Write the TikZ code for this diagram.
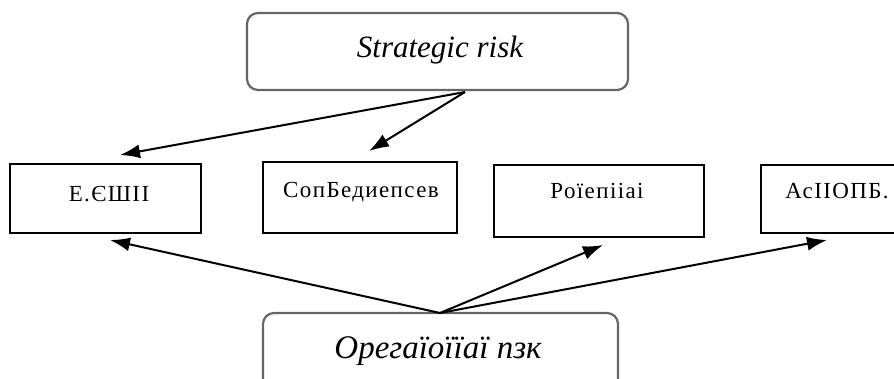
\documentclass[tikz,border=0pt]{standalone}
\usepackage{fontspec}
\setmainfont{Liberation Serif}
\usetikzlibrary{arrows.meta}
\begin{document}
\begin{tikzpicture}[x=1pt,y=-1pt,
 rbox/.style={draw=black!60, line width=2.2pt, rounded corners=11pt, inner sep=0pt},
 sbox/.style={draw=black, line width=1.8pt, inner sep=0pt},
 lbl/.style={anchor=base, inner sep=0pt, font=\fontsize{23}{26}\selectfont\addfontfeatures{LetterSpace=6}},
 ilbl/.style={anchor=base, inner sep=0pt},
 arr/.style={line width=2pt, -{Latex[length=20pt,width=14pt]}}]
\useasboundingbox (0,0) rectangle (894,378);
% boxes
\node[rbox, minimum width=381pt, minimum height=77pt] (top) at (437.5,51.5) {};
\node[sbox, minimum width=191pt, minimum height=69pt] (b1) at (105.5,198.5) {};
\node[sbox, minimum width=194pt, minimum height=71pt] (b2) at (360,197.5) {};
\node[sbox, minimum width=210pt, minimum height=72pt] (b3) at (599,201) {};
\node[sbox, minimum width=144pt, minimum height=68pt] (b4) at (833,199) {};
\node[rbox, minimum width=355pt, minimum height=87pt] (bot) at (440.5,356.5) {};
% labels
\node[ilbl, font=\fontsize{31}{34}\selectfont\itshape] (ttop) at (440,57) {Strategic risk};
\node[lbl] (t1) at (109,201) {Е.ЄШІІ};
\node[lbl] (t2) at (361,197) {СопБедиепсев};
\node[lbl] (t3) at (597,198) {Роїепііаі};
\node[lbl] (t4) at (837,198) {АсІІОПБ.};
\node[ilbl, font=\fontsize{33}{36}\selectfont\itshape] (tbot) at (438,358) {Орегаїоїїаї пзк};
% connector ends
\coordinate (s1) at (465,92);
\coordinate (s2) at (440,313);
\coordinate (e1) at (120,155);
\coordinate (e2) at (369,151);
\coordinate (e3) at (110,240);
\coordinate (e4) at (603,245);
\coordinate (e5) at (827,240);
\draw[arr] (s1) -- (e1);
\draw[arr] (s1) -- (e2);
\draw[arr] (s2) -- (e3);
\draw[arr] (s2) -- (e4);
\draw[arr] (s2) -- (e5);
\end{tikzpicture}
\end{document}
